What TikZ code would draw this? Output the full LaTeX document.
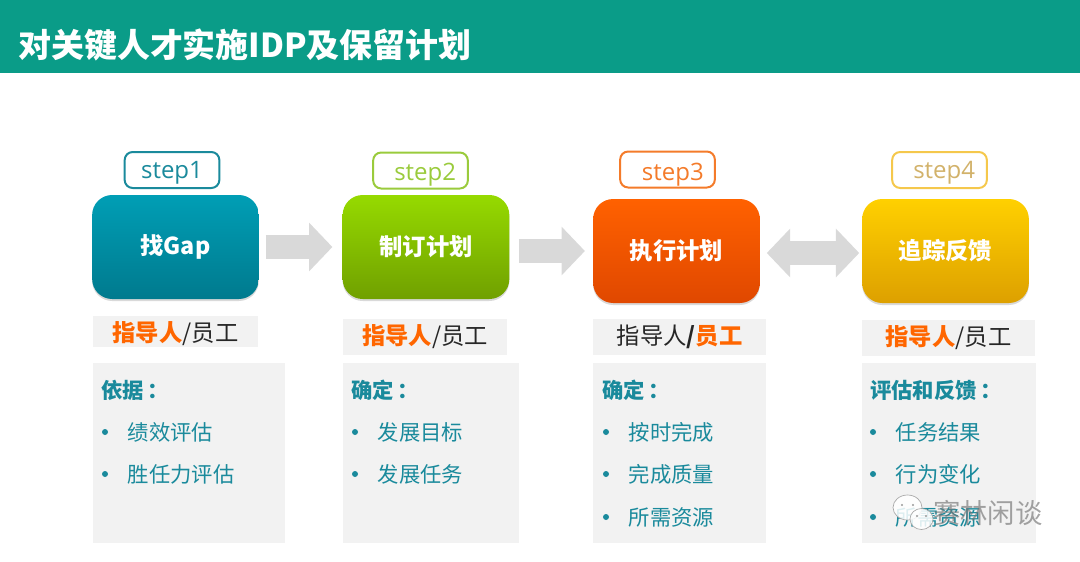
\documentclass[tikz,border=0pt]{standalone}
\usepackage{fontspec}
\setmainfont{Noto Sans CJK SC}
\newfontfamily\stepfont{Open Sans}
\usetikzlibrary{arrows.meta,shadows}
\definecolor{bandcol}{HTML}{0A9C88}
\definecolor{tealcol}{HTML}{1A8A9C}
\definecolor{leafcol}{HTML}{9ACB3C}
\definecolor{fire}{HTML}{F47B2A}
\definecolor{sun}{HTML}{F5C84C}
\definecolor{suntext}{HTML}{D2B26A}
\definecolor{accent}{HTML}{FF6600}
\definecolor{paper}{HTML}{F2F2F2}
\definecolor{flow}{HTML}{D9D9D9}
\definecolor{gaptop}{HTML}{009EB5}
\definecolor{gapend}{HTML}{007A8E}
\definecolor{plantop}{HTML}{96DA00}
\definecolor{planend}{HTML}{70A000}
\definecolor{runtop}{HTML}{FF6100}
\definecolor{runend}{HTML}{E04800}
\definecolor{tracktop}{HTML}{FFD000}
\definecolor{trackend}{HTML}{DDA000}
\tikzset{
	stepbox/.style={draw=#1,line width=1.5pt,rounded corners=6pt,fill=white,minimum width=71pt,minimum height=27pt,inner sep=0pt,text height=13.5pt,text depth=.5pt,font=\stepfont\fontsize{18}{20}\selectfont},
	card/.style 2 args={rounded corners=15pt,top color=#1,bottom color=#2,minimum width=125pt,minimum height=78pt,inner sep=0pt,text=white,font=\bfseries\fontsize{17.5}{20}\selectfont,drop shadow={shadow xshift=0pt,shadow yshift=-1.5pt,opacity=.3}},
	whobar/.style={fill=paper,inner sep=0pt,font=\fontsize{17.5}{20}\selectfont,text=black!85},
	head/.style={anchor=west,inner sep=0pt,text=tealcol,font=\bfseries\fontsize{16}{18}\selectfont},
	item/.style={anchor=west,inner sep=0pt,text=tealcol,font=\fontsize{16}{18}\selectfont},
	dotnode/.style={circle,fill=tealcol,minimum size=4.5pt,inner sep=0pt},
	flowarrow/.style={draw=flow,line width=17.5pt,-{Triangle[length=17.5pt,width=35.5pt]}},
	flowboth/.style={draw=flow,line width=17.5pt,{Triangle[length=17.5pt,width=35.5pt]}-{Triangle[length=17.5pt,width=35.5pt]}},
	bubble/.style={draw=black!35,line width=.5pt,fill=white,fill opacity=.85},
}
\begin{document}
\begin{tikzpicture}[x=.75pt,y=-.75pt]
	\useasboundingbox (0,0) rectangle (1080,561);
	\fill[bandcol] (0,0) rectangle (1080,73);
	\node[anchor=west,inner sep=0pt,text=white,font=\bfseries\fontsize{24.7}{28}\selectfont] (title) at (18,45) {对关键人才实施IDP及保留计划};
	% cards
	\node[card={gaptop}{gapend}] (gap) at (175.5,247) {找Gap};
	\node[card={plantop}{planend}] (plan) at (426,247) {制订计划};
	\node[card={runtop}{runend}] (run) at (676.5,251) {执行计划};
	\node[card={tracktop}{trackend}] (track) at (945.5,251) {追踪反馈};
	% step labels
	\node[stepbox=tealcol,text=tealcol] (s1) at (172,170) {step1};
	\node[stepbox=leafcol,text=leafcol,text height=14.5pt,text depth=0pt] (s2) at (420.5,170.5) {\hspace{7pt}step2};
	\node[stepbox=fire,text=fire,text height=16pt,text depth=0pt] (s3) at (667.5,169.5) {\hspace{8pt}step3};
	\node[stepbox=sun,text=suntext] (s4) at (939.5,170) {\hspace{7pt}step4};
	% arrows
	\draw[flowarrow,shorten <=5pt,shorten >=7.5pt] (gap.east) -- (plan.west);
	\draw[flowarrow,shorten <=7pt,shorten >=6pt] (plan.east |- run.west) -- (run.west);
	\draw[flowboth,shorten <=5pt,shorten >=2pt] ([yshift=-1.5pt]run.east) -- ([yshift=-1.5pt]track.west);
	% who does it
	\node[whobar,minimum width=123.75pt,minimum height=23.25pt,text height=16pt,text depth=.6pt] (w1) at (175.5,331.5) {\textcolor{accent}{\bfseries 指导人}/员工};
	\node[whobar,minimum width=123pt,minimum height=27pt] (w2) at (425,337) {\textcolor{accent}{\bfseries 指导人}/员工};
	\node[whobar,minimum width=129.75pt,minimum height=27pt] (w3) at (679.5,337) {指导人{\bfseries /}\textcolor{accent}{\bfseries 员工}};
	\node[whobar,minimum width=129.75pt,minimum height=27pt] (w4) at (948.5,338) {\textcolor{accent}{\bfseries 指导人}/员工};
	% panels
	\fill[paper] (93,363) rectangle (285,543);
	\fill[paper] (343,363) rectangle (519,543);
	\fill[paper] (593,363) rectangle (766,543);
	\fill[paper] (862,363) rectangle (1036,543);
	\node[head] (h1) at (101,390) {依据\hspace{3pt}：};
	\node[head] (h2) at (351,390) {确定\hspace{3pt}：};
	\node[head] (h3) at (602,390) {确定\hspace{3pt}：};
	\node[head] (h4) at (870,390) {评估和反馈\hspace{3pt}：};
	\foreach \px/\py/\txt [count=\i] in {
		105/432/绩效评估,105/474/胜任力评估,
		355/432/发展目标,355/474/发展任务,
		606/432/按时完成,606/474/完成质量,606/517/所需资源,
		873/432/任务结果,873/474/行为变化,873/517/所需资源}{
		\node[dotnode] (d\i) at (\px,\py) {};
		\node[item] (t\i) at (\px+22.5,\py) {\txt};
	}
	% watermark
	\draw[bubble] (907.5,507.5) ellipse (14.5 and 12.5);
	\draw[bubble] (921.5,519) ellipse (11.5 and 10.5);
	\fill[black!40] (902,505) circle (1.2) (913,505) circle (1.2) (917,516) circle (1.2) (926,516) circle (1.2);
	\node[anchor=west,inner sep=0pt,text=black!55,opacity=.65,font=\fontsize{20.5}{22}\selectfont] (mark) at (933,513) {赛林闲谈};
\end{tikzpicture}
\end{document}
